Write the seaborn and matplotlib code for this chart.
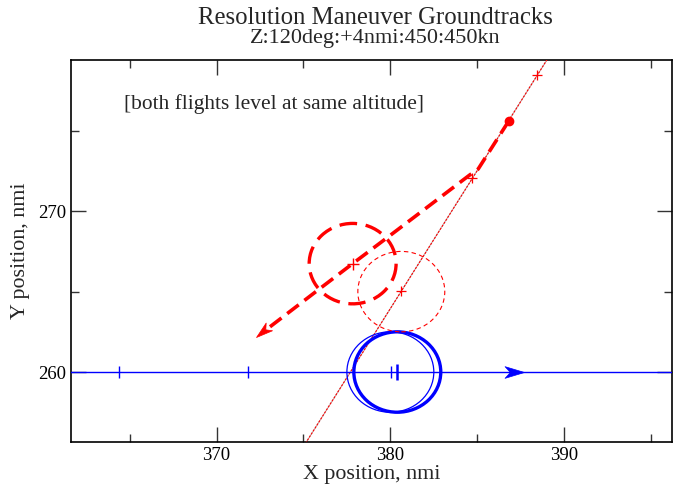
import numpy as np
import seaborn as sns
import matplotlib.pyplot as plt
from matplotlib.patches import Circle
from matplotlib.path import Path
from matplotlib.markers import MarkerStyle
from matplotlib.transforms import Affine2D

sns.set_theme(style="ticks")
plt.rcParams['font.family'] = ['Liberation Serif', 'DejaVu Serif']

# ownship (blue) track, east-bound along y = 260
own_x = [361.0, 397.0]
own_y = [260.0, 260.0]
own_ticks_x = [364.37, 371.84, 380.05]
own_cpa = (380.4, 260.0)
own_arrow = (387.7, 260.0)

# intruder (red) original track and its ticks
intr_x = [374.79, 389.35]
intr_y = [255.0, 280.0]
intr_ticks_x = [388.45, 384.70, 380.63]
intr_ticks_y = [278.45, 272.05, 265.03]
intr_start = (386.80, 275.59)

# intruder resolution manoeuvre path
res_x = [386.80, 385.05, 384.55, 379.75, 377.83, 375.9, 373.0]
res_y = [275.59, 272.62, 272.24, 268.30, 266.74, 265.15, 262.75]
res_center = (377.83, 266.74)
res_arrow = (372.28, 262.16)

# protected zones (radius in nmi)
zone_r = 2.5
zones = {
    'own_orig': (380.0, 260.0),
    'own_cpa': (380.4, 260.0),
    'intr_orig': (380.63, 265.0),
    'intr_res': (377.83, 266.74),
}


def stealth_marker(angle):
    # notched arrow head with its tip at the marker origin
    verts = [(0, 0), (-2, 0.6), (-1.45, 0), (-2, -0.6), (0, 0)]
    codes = [Path.MOVETO, Path.LINETO, Path.LINETO, Path.LINETO, Path.CLOSEPOLY]
    return MarkerStyle(Path(verts, codes), transform=Affine2D().rotate_deg(angle))


fig = plt.figure(figsize=(6.73, 4.88), dpi=100)
ax = fig.add_axes([0.1055, 0.0943, 0.893, 0.7827])

# thin red original intruder track (grey under red dashes)
ax.plot(intr_x, intr_y, color='#b8b8b8', lw=0.8, zorder=2)
sns.lineplot(x=intr_x, y=intr_y, ax=ax, color='red', lw=0.8,
             linestyle=(0, (2, 1.2)), sort=False, zorder=3)
ax.plot(intr_ticks_x, intr_ticks_y, '+', color='red', ms=7, mew=0.9, zorder=4)

# blue ownship track
sns.lineplot(x=own_x, y=own_y, ax=ax, color='blue', lw=1.0, sort=False, zorder=3)
ax.plot(own_ticks_x, [260.0] * len(own_ticks_x), '|', color='blue', ms=8, mew=1.0, zorder=4)
ax.plot([own_cpa[0]], [own_cpa[1]], '|', color='blue', ms=12, mew=1.8, zorder=4)
ax.plot([own_arrow[0]], [own_arrow[1]], marker=stealth_marker(0), color='blue',
        ms=28, mew=0.5, ls='none', zorder=5)

# blue zones
ax.add_patch(Circle(zones['own_orig'], zone_r, fill=False, ec='blue', lw=0.9, zorder=3))
ax.add_patch(Circle(zones['own_cpa'], zone_r, fill=False, ec='blue', lw=2.4, zorder=3))

# red zones
ax.add_patch(Circle(zones['intr_orig'], zone_r, fill=False, ec='red', lw=0.8,
                    linestyle=(0, (4, 3)), zorder=3))
ax.add_patch(Circle(zones['intr_res'], zone_r, fill=False, ec='red', lw=2.4,
                    linestyle=(1.4, (5.3, 2.6)), zorder=3))

# red resolution path
sns.lineplot(x=res_x, y=res_y, ax=ax, color='red', lw=2.6,
             linestyle=(0, (4, 2)), sort=False, zorder=4)
ax.plot([res_arrow[0]], [res_arrow[1]], marker=stealth_marker(219.5), color='red',
        ms=24, mew=0.5, ls='none', zorder=5)
ax.plot([res_center[0]], [res_center[1]], '+', color='red', ms=8, mew=1.0, zorder=5)
ax.plot([intr_start[0]], [intr_start[1]], 'o', color='red', ms=6, zorder=6)

ax.text(364.66, 276.65, '[both flights level at same altitude]', fontsize=15.4,
        va='center', ha='left')

ax.set_xlim(361.63, 396.2)
ax.set_ylim(255.65, 279.4)
ax.set_xticks([370, 380, 390])
ax.set_xticks([365, 375, 385, 395], minor=True)
ax.set_yticks([260, 270])
ax.set_yticks([265, 275], minor=True)
ax.tick_params(which='both', direction='in', top=True, right=True,
               labelsize=13.5, colors='#333333', labelcolor='black')
ax.tick_params(which='major', length=11, width=1.0)
ax.tick_params(which='minor', length=6, width=1.0)
for s in ax.spines.values():
    s.set_linewidth(1.2)
    s.set_color('black')

ax.set_xlabel('X position, nmi', fontsize=15.8, labelpad=1)
ax.set_ylabel('Y position, nmi', fontsize=15.8, labelpad=6)
fig.text(0.558, 0.963, 'Resolution Maneuver Groundtracks', fontsize=17.8, ha='center', va='center')
fig.text(0.558, 0.922, 'Z:120deg:+4nmi:450:450kn', fontsize=16, ha='center', va='center')

fig.savefig('out.png', dpi=100)
